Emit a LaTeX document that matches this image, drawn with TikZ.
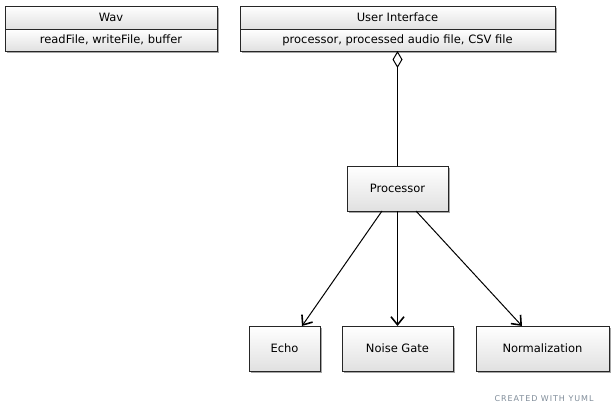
\documentclass[tikz,border=0pt]{standalone}
\usepackage{fontspec}
\setmainfont{DejaVu Sans}
\newfontfamily\yumlfont[LetterSpace=12]{DejaVu Sans}
\usetikzlibrary{arrows.meta,shadows}
\definecolor{yumlgray}{HTML}{7F8C99}
\tikzset{
  box/.style={draw=black!85, line width=1pt, inner sep=0pt, outer sep=0pt,
    top color=white, bottom color=black!12, anchor=north west,
    font=\fontsize{11.5}{13}\selectfont, align=center},
  shadowed/.style={drop shadow={shadow xshift=2pt, shadow yshift=-2pt, opacity=0.35, fill=black}},
  conn/.style={line width=1pt, black},
  arr/.style={conn, -{Straight Barb[length=8pt,width=13pt,line width=1.6pt]}},
}
\begin{document}
\begin{tikzpicture}[x=1pt,y=-1pt]
\useasboundingbox (0,0) rectangle (614,415);
% Wav
\node[box, shadowed, minimum width=212pt, minimum height=45pt] (wavbg) at (5,6) {};
\node[box, minimum width=212pt, minimum height=23pt] (wavname) at (5,6) {Wav};
\node[box, minimum width=212pt, minimum height=22pt] (wavattr) at (5,29) {readFile, writeFile, buffer};
% User Interface
\node[box, shadowed, minimum width=315pt, minimum height=45pt] (uibg) at (240,6) {};
\node[box, minimum width=315pt, minimum height=23pt] (uiname) at (240,6) {User Interface};
\node[box, minimum width=315pt, minimum height=22pt] (uiattr) at (240,29) {processor, processed audio file, CSV file};
% Processor
\node[box, shadowed, minimum width=101pt, minimum height=45pt] (proc) at (347,166) {Processor};
% Children
\node[box, shadowed, minimum width=71pt, minimum height=45pt] (echo) at (249,326) {Echo};
\node[box, shadowed, minimum width=111pt, minimum height=45pt] (gate) at (342,326) {Noise Gate};
\node[box, shadowed, minimum width=133pt, minimum height=45pt] (norm) at (476,326) {Normalization};
% connectors
\draw[conn, {Diamond[open,length=17pt,width=10pt,line width=1pt]}-] (uiattr.south -| proc.north) -- (proc.north);
\coordinate (pl) at (382,211);
\coordinate (pr) at (416,211);
\draw[arr] (pl) -- (echo.north -| 302,0);
\draw[arr] (proc.south -| gate.north) -- (gate.north);
\draw[arr] (pr) -- (norm.north -| 522,0);
% footer
\node[text=yumlgray, font=\yumlfont\fontsize{8}{9}\selectfont] (yuml) at (544,399) {CREATED WITH YUML};
\end{tikzpicture}
\end{document}
